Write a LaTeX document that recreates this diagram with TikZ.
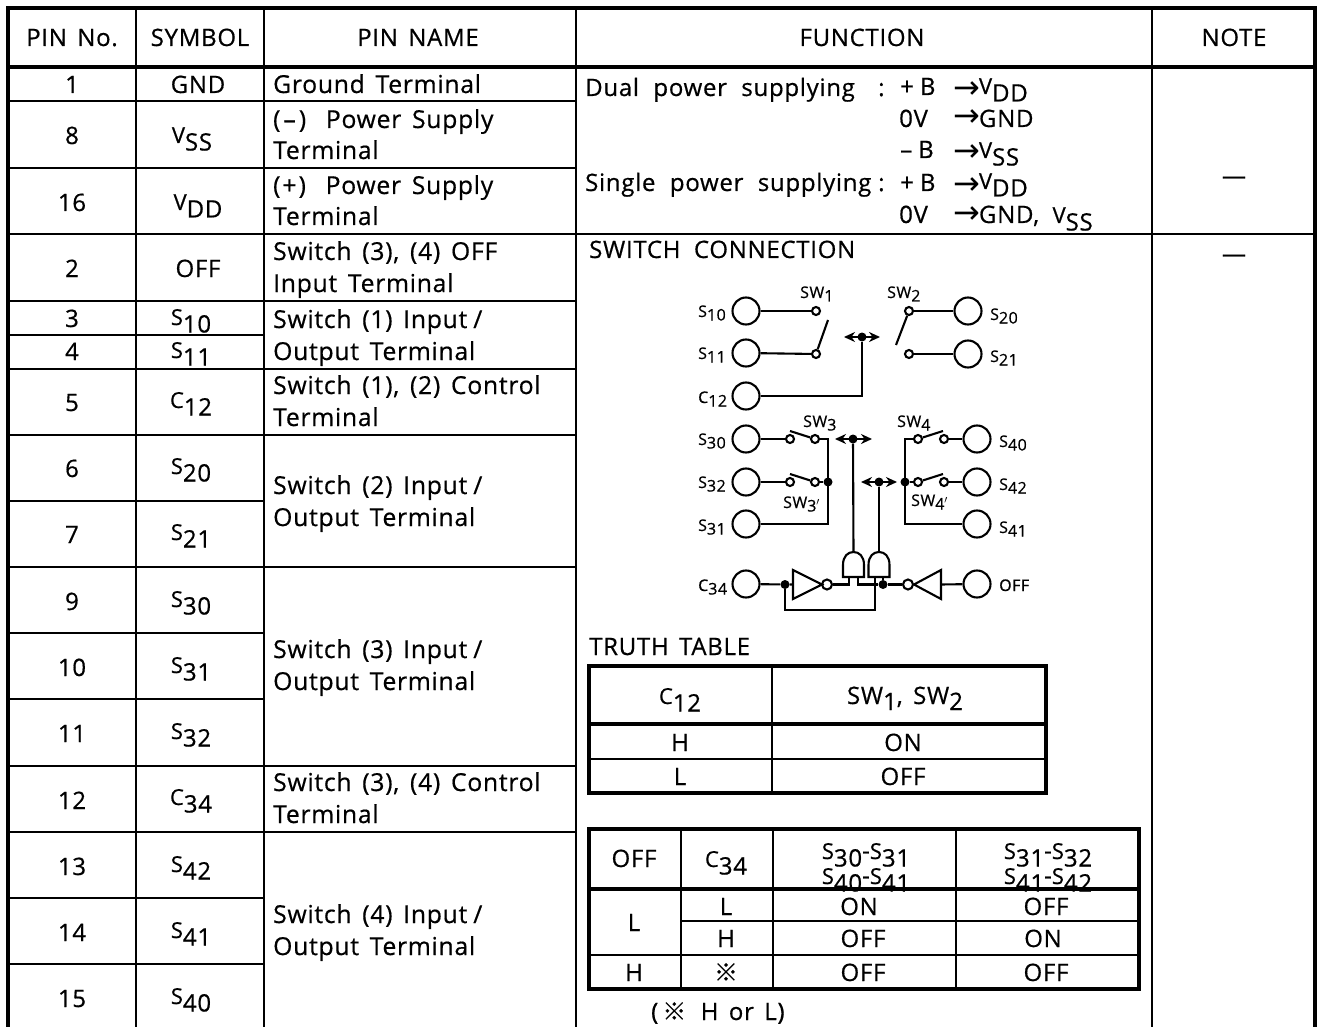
\documentclass[tikz,border=0pt]{standalone}
\usepackage{fontspec}
\setmainfont[LetterSpace=3,WordSpace=1.5,FakeBold=0.6]{Open Sans}
\newfontfamily\sym{DejaVu Sans}
\newfontfamily\cjkf[FakeBold=0.3]{Noto Sans CJK JP}
\usetikzlibrary{arrows.meta,calc}
\newcommand{\sy}[2]{{\fontsize{22}{22}\selectfont #1}\raisebox{-7.5pt}{#2}}
\newcommand{\syb}[2]{{\fontsize{16}{16}\selectfont #1}\raisebox{-3.5pt}{{\fontsize{16}{16}\selectfont #2}}}
\newcommand{\toarr}[1]{\raisebox{#1}{\sym\fontsize{32}{22}\selectfont →}\kern-1pt}
\newcommand{\andgate}[2]{%
  \draw[wire] (#2,577) -- (#2,565) .. controls (#2,556) and ($(#2,552)+(5,0)$) .. ($(#2,552)+(10.5,0)$)
   .. controls ($(#2,552)+(16,0)$) and ($(#2,556)+(21,0)$) .. ($(#2,565)+(21,0)$) -- ($(#2,577)+(21,0)$) -- cycle;
  \coordinate (#1top) at ($(#2,552)+(10.5,0)$);}
\tikzset{x=1pt,y=-1pt,
  txt/.style={font=\fontsize{24}{24}\selectfont,inner sep=0pt,anchor=base west},
  nmt/.style={font=\fontsize{24.7}{24}\selectfont,inner sep=0pt,anchor=base west},
  ctr/.style={font=\fontsize{24}{24}\selectfont,inner sep=0pt,anchor=base},
  lab/.style={font=\fontsize{16}{16}\selectfont,inner sep=0pt,anchor=base west},
  thin grid/.style={line width=2pt,line cap=rect},
  thick grid/.style={line width=4.4pt,line cap=rect},
  wire/.style={line width=2.1pt,line join=miter},
  term/.style={circle,draw,line width=2.1pt,minimum size=27pt,inner sep=0pt},
  cont/.style={circle,draw,line width=2.1pt,minimum size=8pt,inner sep=0pt},
  bub/.style={circle,draw,line width=2.1pt,minimum size=10pt,inner sep=0pt},
  jun/.style={circle,fill,minimum size=9pt,inner sep=0pt},
  ctl/.style={line width=2.1pt,-{Stealth[length=11pt,width=10pt]}},
}
\begin{document}
\begin{tikzpicture}
\useasboundingbox (0,0) rectangle (1318,1027);
\clip (0,0) rectangle (1318,1027);
% frame
\draw[thick grid] (8,1030) -- (8,8) -- (1315,8) -- (1315,1030);
\draw[thick grid] (8,67) -- (1315,67);
\foreach \x in {136,264,576,1152} \draw[thin grid] (\x,8) -- (\x,1030);
\foreach \y in {101,168,234,301,335,369,435,501,567,633,699,766,832,898,964} \draw[thin grid] (8,\y) -- (264,\y);
\foreach \y in {101,168,234,301,369,435,567,766,832} \draw[thin grid] (264,\y) -- (576,\y);
\draw[thin grid] (576,234) -- (1315,234);
% header
\node[ctr] (h1) at (72,46) {PIN No.};
\node[ctr] (h2) at (200,46) {SYMBOL};
\node[ctr] (h3) at (418,46) {PIN NAME};
\node[ctr] (h4) at (862,46) {FUNCTION};
\node[ctr] (h5) at (1234,46) {NOTE};
% pins
\foreach \n/\y in {1/93,8/144,16/211,2/277,3/327,4/360,5/411,6/477,7/543,9/610,10/676,11/742,12/809,13/875,14/941,15/1007}
  \node[ctr] (pin\n) at (72,\y) {\n};
% symbols
\node[ctr] (y1) at (198,93) {GND};
\node[ctr] (y8) at (192,143) {\sy{V}{SS}};
\node[ctr] (y16) at (198,210) {\sy{V}{DD}};
\node[ctr] (y2) at (198,277) {OFF};
\foreach \n/\y/\a/\b in {3/325/S/10,4/358/S/11,5/408/C/12,6/474/S/20,7/540/S/21,9/607/S/30,10/673/S/31,11/739/S/32,12/805/C/34,13/872/S/42,14/938/S/41,15/1004/S/40}
  \node[ctr] (y\n) at (191,\y) {\sy{\a}{\b}};
% names
\foreach \k/\y/\t in {a/93/{Ground Terminal},b/128/{(\kern3pt–\kern3pt)\hspace{9pt} Power Supply},c/159/Terminal,d/194/{(\kern2pt+\kern2pt)\hspace{9pt} Power Supply},e/225/Terminal,f/260/{Switch (3), (4) OFF},g/292/{Input Terminal},h/328/{Switch (1) Input\kern6pt/},i/360/{Output Terminal},j/394/{Switch (1), (2) Control},k/426/Terminal,l/494/{Switch (2) Input\kern6pt/},m/526/{Output Terminal},n/658/{Switch (3) Input\kern6pt/},o/690/{Output Terminal},p/791/{Switch (3), (4) Control},q/823/Terminal,r/923/{Switch (4) Input\kern6pt/},s/955/{Output Terminal}}
  \node[nmt] (nm\k) at (273,\y) {\t};
% function
\node[txt] (f1) at (585,96) {Dual\hspace{4pt} power\hspace{4pt} supplying};
\node[txt] (f1c) at (878,96) {:};
\node[txt] (f1b) at (900,95) {+\kern6pt B};
\node[txt] (f1a) at (953,94) {\toarr{-5pt}\sy{V}{DD}};
\node[txt] (f2b) at (899,127) {0V};
\node[txt] (f2a) at (953,127) {\toarr{0pt}GND};
\node[txt] (f3b) at (900,158) {–\kern6pt B};
\node[txt] (f3a) at (953,158) {\toarr{-4pt}\sy{V}{SS}};
\node[txt] (f4) at (585,191) {Single\hspace{4pt} power\hspace{4pt} supplying};
\node[txt] (f4c) at (878,191) {:};
\node[txt] (f4b) at (900,191) {+\kern6pt B};
\node[txt] (f4a) at (953,189) {\toarr{-6pt}\sy{V}{DD}};
\node[txt] (f5b) at (899,223) {0V};
\node[txt] (f5a) at (953,223) {\toarr{-1pt}GND, \hspace{3pt}\sy{V}{SS}};
\node[ctr] (d1) at (1234,184) {—};
\node[ctr] (d2) at (1234,262) {—};
\node[txt] (sc) at (589,258) {SWITCH\hspace{3pt} CONNECTION};
\node[txt] (tt) at (589,655) {TRUTH TABLE};
% truth table 1
\draw[thick grid] (589,666) rectangle (1046,793);
\draw[thick grid] (589,724) -- (1046,724);
\draw[thin grid] (589,759) -- (1046,759);
\draw[thin grid] (772,666) -- (772,793);
\node[ctr] (t1a) at (680,704) {\sy{C}{12}};
\node[ctr] (t1b) at (905,704) {SW\raisebox{-6pt}{1}, SW\raisebox{-6pt}{2}};
\node[ctr] (t1c) at (680,751) {H};
\node[ctr] (t1d) at (903,751) {ON};
\node[ctr] (t1e) at (680,785) {L};
\node[ctr] (t1f) at (903,785) {OFF};
% truth table 2
\node[ctr] (t2a) at (634,867) {OFF};
\node[ctr] (t2b) at (726,867) {\sy{C}{34}};
\node[ctr] (t2c) at (866,859) {\sy{S}{30}-\sy{S}{31}};
\node[ctr] (t2d) at (866,884) {\sy{S}{40}-\sy{S}{41}};
\node[ctr] (t2e) at (1048,859) {\sy{S}{31}-\sy{S}{32}};
\node[ctr] (t2f) at (1048,884) {\sy{S}{41}-\sy{S}{42}};
\draw[thick grid] (589,829) rectangle (1139,989);
\draw[thick grid] (589,889) -- (1139,889);
\draw[thin grid] (681,921) -- (1139,921);
\draw[thin grid] (589,955) -- (1139,955);
\foreach \x in {681,773,956} \draw[thin grid] (\x,829) -- (\x,989);
\node[ctr] (r1a) at (634,931) {L};
\node[ctr] (r1b) at (726,915) {L};
\node[ctr] (r1c) at (859,915) {ON};
\node[ctr] (r1d) at (1046,915) {OFF};
\node[ctr] (r2b) at (726,947) {H};
\node[ctr] (r2c) at (863,947) {OFF};
\node[ctr] (r2d) at (1043,947) {ON};
\node[ctr] (r3a) at (634,981) {H};
\node[ctr] (r3b) at (726,981) {\cjkf ※};
\node[ctr] (r3c) at (863,981) {OFF};
\node[ctr] (r3d) at (1046,981) {OFF};
\node[txt] (nt) at (651,1020) {(\,{\cjkf ※}\, H or L)};
% schematic terminals
\foreach \n/\x/\y in {s10/746/311,s11/746/353,c12/746/396,s30/746/439,s32/746/482,s31/746/524,c34/746/584,s20/968/311,s21/968/354,s40/977/439,s42/977/482,s41/977/524,off/977/584}
  \node[term] (\n) at (\x,\y) {};
\foreach \n/\x/\y/\a/\b in {l10/698/317/S/10,l11/698/359/S/11,l12/698/403/C/12,l30/698/445/S/30,l32/698/488/S/32,l31/698/531/S/31,l34/698/591/C/34,l20/990/320/S/20,l21/990/362/S/21,l40/999/447/S/40,l42/999/490/S/42,l41/999/533/S/41}
  \node[lab] (\n) at (\x,\y) {\syb{\a}{\b}};
\node[lab] (loff) at (999,591) {OFF};
\node[lab] (sw1) at (800,298) {\syb{SW}{1}};
\node[lab] (sw2) at (887,298) {\syb{SW}{2}};
\node[lab] (sw3) at (803,427) {\syb{SW}{3}};
\node[lab] (sw4) at (897,427) {\syb{SW}{4}};
\node[lab] (sw3p) at (783,508) {\syb{SW}{3$'$}};
\node[lab] (sw4p) at (911,506) {\syb{SW}{4$'$}};
% contacts
\foreach \n/\x/\y in {a1/816/311,a2/816/354,b1/909/311,b2/909/354,c1/790/439,c2/815/439,d1c/790/482,d2c/815/482,e1/918/439,e2/944/439,g1/918/482,g2/944/482}
  \node[cont] (\n) at (\x,\y) {};
% wires to contacts
\draw[wire] (s10) -- (a1); \draw[wire] (s11) -- (a2);
\draw[wire] (b1) -- (s20); \draw[wire] (b2) -- (s21);
\draw[wire] (s30) -- (c1); \draw[wire] (s32) -- (d1c);
\draw[wire] (e2) -- (s40); \draw[wire] (g2) -- (s42);
% blades
\coordinate (bl1) at (828,320); \coordinate (bl2) at (896,345);
\coordinate (bl3) at (790,431); \coordinate (bl4) at (790,474);
\coordinate (bl5) at (943,431); \coordinate (bl6) at (943,474);
\draw[wire] (a2) -- (bl1); \draw[wire] (b1) -- (bl2);
\draw[wire] (c2) -- (bl3); \draw[wire] (d2c) -- (bl4);
\draw[wire] (e1) -- (bl5); \draw[wire] (g1) -- (bl6);
% buses
\node[jun] (j3) at (828,482) {};
\node[jun] (j4) at (905,482) {};
\coordinate (b3t) at (828,439); \coordinate (b3b) at (828,524);
\coordinate (b4t) at (905,439); \coordinate (b4b) at (905,524);
\draw[wire] (c2) -- (b3t) -- (b3b) -- (s31);
\draw[wire] (d2c) -- (j3);
\draw[wire] (e1) -- (b4t) -- (b4b) -- (s41);
\draw[wire] (j4) -- (g1);
% control nodes
\node[jun] (k1) at (862,337) {};
\node[jun] (k2) at (853,439) {};
\node[jun] (k3) at (879,482) {};
\coordinate (k1l) at (844,337); \coordinate (k1r) at (880,337);
\coordinate (k2l) at (835,439); \coordinate (k2r) at (872,439);
\coordinate (k3l) at (861,482); \coordinate (k3r) at (897,482);
\foreach \k in {1,2,3} {\draw[ctl] (k\k.center) -- (k\k l); \draw[ctl] (k\k.center) -- (k\k r);}
\coordinate (c12b) at (862,396);
\draw[wire] (c12) -- (c12b) -- (k1);
% gates
\andgate{ga}{843}
\andgate{gb}{868.5}
\draw[wire] (k2) -- (gatop);
\draw[wire] (k3) -- (gbtop);
% inverters
\coordinate (i1a) at (793,570); \coordinate (i1b) at (793,599); \coordinate (i1t) at (822,584.5);
\coordinate (i2a) at (941,570); \coordinate (i2b) at (941,599); \coordinate (i2t) at (914,584.5);
\draw[wire] (i1a) -- (i1t) -- (i1b) -- cycle;
\draw[wire] (i2a) -- (i2t) -- (i2b) -- cycle;
\node[bub] (n1) at (827,584.5) {};
\node[bub] (n2) at (908,584.5) {};
\node[jun] (j5) at (785,584.5) {};
\node[jun] (j6) at (883,584.5) {};
\coordinate (i1m) at (793,584.5); \coordinate (i2m) at (941,584.5);
\draw[wire] (c34) -- (j5) -- (i1m);
\draw[wire] (i2m) -- (off);
\coordinate (g1l) at (849,577); \coordinate (g1lb) at (849,584.5);
\coordinate (g1r) at (858,577); \coordinate (g1rb) at (858,584.5);
\coordinate (g2r) at (883,577);
\coordinate (g2l) at (875,577); \coordinate (lp1) at (875,610); \coordinate (lp2) at (785,610);
\draw[wire] (n1) -- (g1lb) -- (g1l);
\draw[wire] (g1r) -- (g1rb) -- (j6) -- (n2);
\draw[wire] (j6) -- (g2r);
\draw[wire] (g2l) -- (lp1) -- (lp2) -- (j5);
\end{tikzpicture}
\end{document}
